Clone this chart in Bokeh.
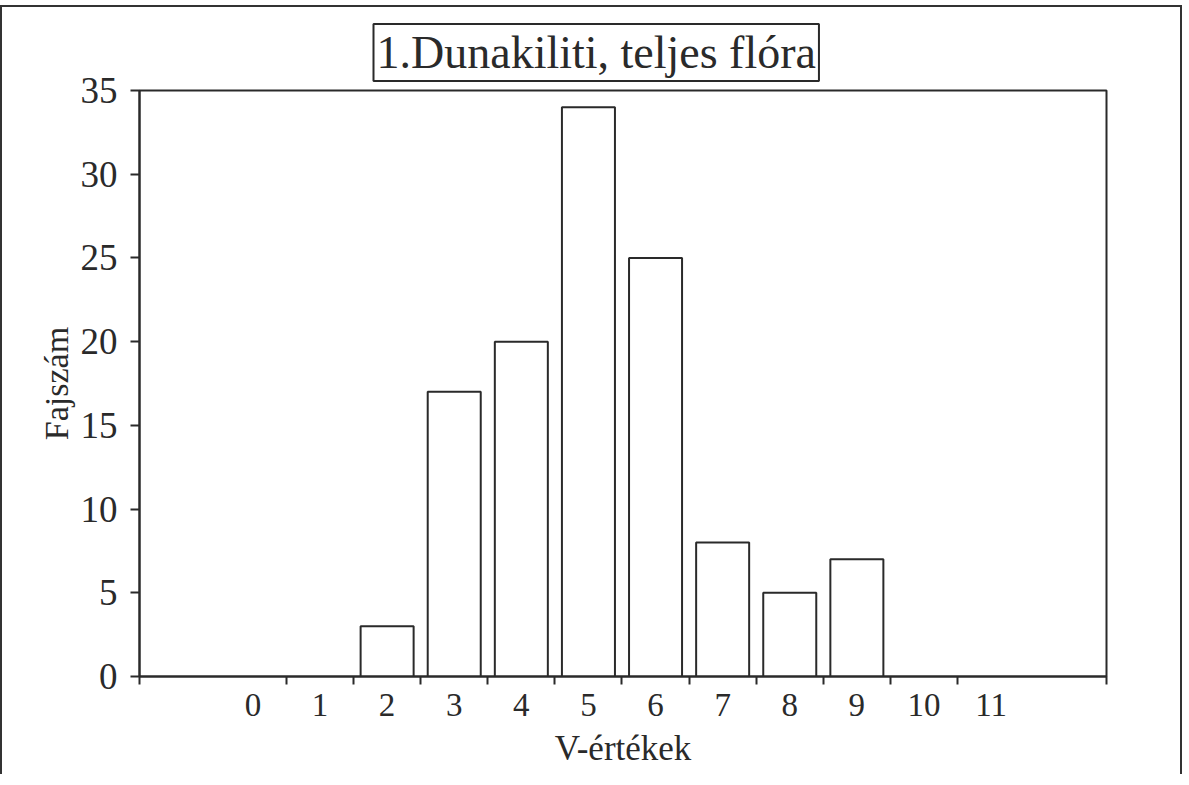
from bokeh.plotting import figure
from bokeh.models import Range1d, FixedTicker, Title
from bokeh.embed import file_html
from bokeh.resources import INLINE

# ---- data ----
categories = ["0", "1", "2", "3", "4", "5", "6", "7", "8", "9", "10", "11"]
species_counts = [0, 0, 3, 17, 20, 34, 25, 8, 5, 7, 0, 0]
y_ticks = [0, 5, 10, 15, 20, 25, 30, 35]
title_text = "1.Dunakiliti, teljes flóra"
x_label = "V-értékek"
y_label = "Fajszám"

INK = "#2a2a2a"
FONT = "Liberation Serif"

x_pos = list(range(len(categories)))
x_start, x_end = -1.69, 12.72

p = figure(
    width=1182, height=769,
    x_range=Range1d(x_start, x_end), y_range=Range1d(0, 35),
    output_backend="svg", toolbar_location=None,
    min_border_left=137, min_border_right=78,
    min_border_top=83, min_border_bottom=100,
    background_fill_color="white", border_fill_color="white",
)
p.margin = (5, 0, 0, 0)
p.styles = {
    "border-left": "2px solid #333",
    "border-top": "2px solid #333",
    "border-right": "2px solid #333",
}

p.outline_line_color = INK
p.outline_line_width = 2
p.xgrid.grid_line_color = None
p.ygrid.grid_line_color = None

# bars (only non-empty categories)
bx = [x for x, v in zip(x_pos, species_counts) if v > 0]
bt = [v for v in species_counts if v > 0]
p.vbar(x=bx, top=bt, width=0.79, bottom=0,
       fill_color="white", line_color=INK, line_width=2)

# x axis: labels at category centres, tick marks at boundaries
boundaries = [x_start] + [i + 0.5 for i in x_pos[:-1]] + [x_end]
p.xaxis.ticker = FixedTicker(ticks=x_pos, minor_ticks=boundaries)
p.xaxis.major_label_overrides = {i: c for i, c in zip(x_pos, categories)}
p.xaxis.major_tick_out = 0
p.xaxis.major_tick_in = 0
p.xaxis.minor_tick_out = 8
p.xaxis.minor_tick_in = 0
p.xaxis.minor_tick_line_color = INK
p.xaxis.minor_tick_line_width = 2
p.xaxis.major_label_text_font = FONT
p.xaxis.major_label_text_font_size = "33px"
p.xaxis.major_label_text_color = INK
p.xaxis.major_label_standoff = 9
p.xaxis.axis_label = x_label
p.xaxis.axis_label_text_font = FONT
p.xaxis.axis_label_text_font_size = "35px"
p.xaxis.axis_label_text_font_style = "normal"
p.xaxis.axis_label_text_color = INK
p.xaxis.axis_label_standoff = 10

# y axis
p.yaxis.ticker = FixedTicker(ticks=y_ticks, minor_ticks=[])
p.yaxis.major_tick_out = 9
p.yaxis.major_tick_in = 0
p.yaxis.major_tick_line_width = 2
p.yaxis.major_tick_line_color = INK
p.yaxis.major_label_text_font = FONT
p.yaxis.major_label_text_font_size = "37px"
p.yaxis.major_label_text_color = INK
p.yaxis.major_label_standoff = 13
p.yaxis.axis_label = y_label
p.yaxis.axis_label_text_font = FONT
p.yaxis.axis_label_text_font_size = "34px"
p.yaxis.axis_label_text_font_style = "normal"
p.yaxis.axis_label_text_color = INK
p.yaxis.axis_label_standoff = 3

for ax in (p.xaxis[0], p.yaxis[0]):
    ax.axis_line_color = INK
    ax.axis_line_width = 2

# boxed title
p.title = Title(
    text=title_text, align="left", offset=234,
    text_font=FONT, text_font_size="46px", text_font_style="normal",
    text_color=INK, border_line_color=INK, border_line_width=2,
    background_fill_color="white", padding=3, standoff=19,
)

open("out.html", "w").write(file_html(p, INLINE))
